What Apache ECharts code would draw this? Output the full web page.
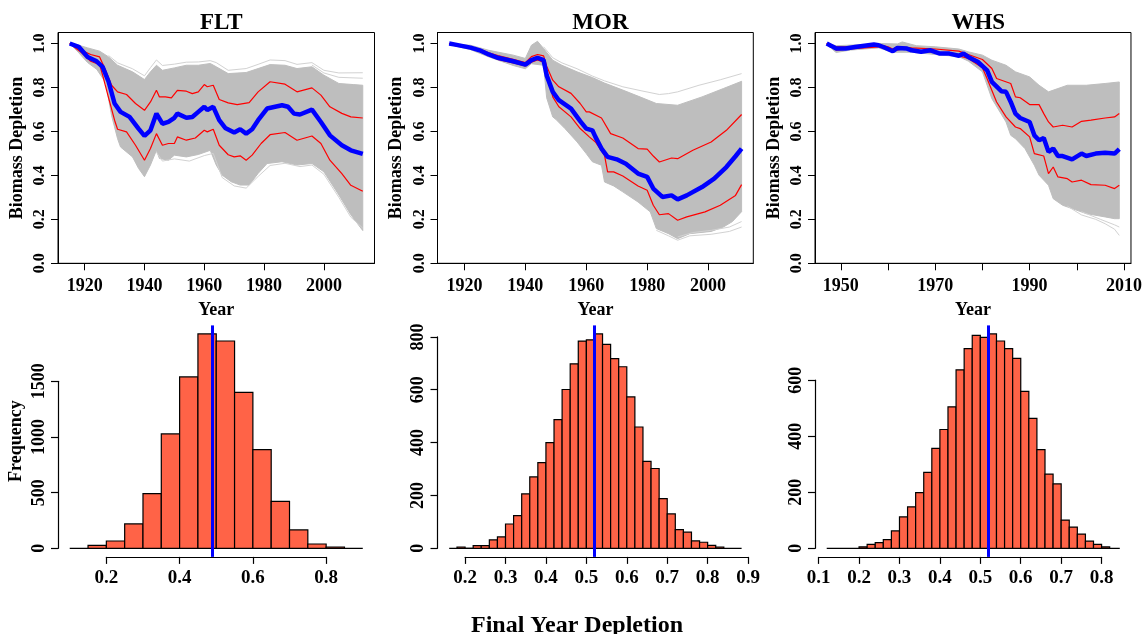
<!DOCTYPE html>
<html>
<head>
<meta charset="utf-8">
<script src="https://cdn.jsdelivr.net/npm/echarts@6/dist/echarts.min.js"></script>
<style>
  html, body { margin: 0; padding: 0; background: #fff; }
  #chart { width: 1145px; height: 634px; }
</style>
</head>
<body>
<div id="chart"></div>
<script>
const SERIF = '"Liberation Serif", "Times New Roman", serif';

// Shared depletion axis
const depletionTicks = [0, 0.2, 0.4, 0.6, 0.8, 1.0];
const depletionMax = 1.05;

// ---------- FLT ----------
const fltYearTicks = [1920, 1940, 1960, 1980, 2000];
const fltYearLabels = [1920, 1940, 1960, 1980, 2000];
const fltMedian = [[1915,1.0],[1918,0.985],[1921,0.939],[1924,0.919],[1926,0.894],[1928,0.826],[1930,0.727],[1932,0.689],[1935,0.666],[1938,0.613],[1940,0.580],[1942,0.605],[1944,0.681],[1946,0.635],[1948,0.643],[1950,0.662],[1951,0.681],[1954,0.662],[1956,0.666],[1958,0.689],[1960,0.712],[1961,0.697],[1963,0.712],[1965,0.651],[1967,0.616],[1970,0.595],[1972,0.610],[1974,0.590],[1976,0.610],[1978,0.651],[1981,0.704],[1986,0.719],[1988,0.712],[1990,0.681],[1992,0.677],[1996,0.699],[1999,0.643],[2002,0.582],[2006,0.537],[2009,0.514],[2013,0.498]];
const fltUpper = [[1915,1.0],[1919,0.969],[1922,0.950],[1925,0.939],[1927,0.878],[1929,0.810],[1931,0.780],[1934,0.768],[1937,0.727],[1940,0.696],[1942,0.734],[1944,0.787],[1945,0.757],[1947,0.757],[1949,0.753],[1951,0.787],[1954,0.783],[1956,0.772],[1958,0.780],[1960,0.813],[1961,0.803],[1963,0.810],[1965,0.745],[1968,0.730],[1971,0.722],[1975,0.731],[1978,0.780],[1982,0.826],[1987,0.815],[1991,0.780],[1996,0.798],[1999,0.765],[2002,0.712],[2006,0.682],[2009,0.666],[2013,0.661]];
const fltLower = [[1915,1.0],[1919,0.958],[1922,0.919],[1925,0.904],[1926,0.856],[1928,0.753],[1930,0.651],[1931,0.610],[1934,0.598],[1937,0.537],[1940,0.469],[1942,0.522],[1944,0.590],[1946,0.537],[1948,0.545],[1950,0.545],[1951,0.575],[1954,0.560],[1957,0.570],[1960,0.605],[1961,0.598],[1963,0.610],[1965,0.537],[1968,0.494],[1970,0.484],[1972,0.489],[1974,0.469],[1976,0.492],[1979,0.545],[1982,0.585],[1987,0.595],[1991,0.560],[1996,0.579],[1999,0.545],[2002,0.469],[2006,0.408],[2009,0.355],[2013,0.328]];
const fltEnvHigh = [[1915,1.0],[1918,0.992],[1921,0.980],[1925,0.965],[1928,0.939],[1931,0.901],[1936,0.871],[1940,0.836],[1942,0.871],[1944,0.901],[1946,0.878],[1950,0.889],[1954,0.901],[1958,0.901],[1962,0.909],[1964,0.894],[1968,0.863],[1974,0.868],[1978,0.886],[1982,0.904],[1987,0.901],[1991,0.886],[1996,0.894],[2000,0.856],[2005,0.818],[2010,0.813],[2013,0.810]];
const fltEnvLow = [[1915,1.0],[1918,0.958],[1921,0.913],[1924,0.883],[1927,0.823],[1929,0.672],[1931,0.567],[1932,0.529],[1936,0.484],[1938,0.432],[1940,0.394],[1942,0.447],[1944,0.514],[1945,0.477],[1948,0.469],[1950,0.492],[1954,0.484],[1958,0.495],[1962,0.514],[1964,0.447],[1966,0.401],[1969,0.371],[1972,0.356],[1975,0.356],[1978,0.409],[1981,0.454],[1986,0.462],[1991,0.447],[1996,0.454],[2000,0.416],[2005,0.311],[2009,0.221],[2013,0.149]];
const fltStrayHigh = [[1928,0.945],[1931,0.912],[1936,0.885],[1940,0.853],[1942,0.890],[1944,0.925],[1946,0.900],[1950,0.906],[1954,0.915],[1958,0.916],[1962,0.922],[1964,0.913],[1968,0.878],[1974,0.886],[1978,0.905],[1982,0.925],[1987,0.922],[1991,0.905],[1996,0.913],[2000,0.878],[2005,0.866],[2013,0.867]];
const fltStrayHigh2 = [[1996,0.902],[2000,0.866],[2005,0.846],[2013,0.842]];
const fltStrayLow = [[1944,0.505],[1946,0.465],[1950,0.475],[1955,0.465],[1960,0.490],[1963,0.500],[1966,0.390],[1970,0.352],[1974,0.342],[1978,0.395],[1982,0.445],[1987,0.455],[1992,0.440],[1996,0.447],[2000,0.405],[2005,0.300],[2009,0.210],[2013,0.160]];
const fltHistStart = 0.15;
const fltHistWidth = 0.05;
const fltHistCounts = [27, 66, 219, 491, 1027, 1539, 1925, 1862, 1401, 886, 422, 165, 39, 12];
const fltHistRange = [0.1, 0.9];
const fltHistXTicks = [0.2, 0.4, 0.6, 0.8];
const fltHistYTicks = [0, 500, 1000, 1500];
const fltFinalMedian = 0.492;

// ---------- MOR ----------
const morYearTicks = [1920, 1940, 1960, 1980, 2000];
const morYearLabels = [1920, 1940, 1960, 1980, 2000];
const morMedian = [[1915,1.0],[1917,0.995],[1922,0.981],[1925,0.969],[1928,0.950],[1931,0.935],[1936,0.919],[1940,0.904],[1942,0.924],[1944,0.935],[1946,0.924],[1947,0.855],[1949,0.780],[1951,0.742],[1955,0.704],[1958,0.647],[1960,0.613],[1962,0.605],[1963,0.575],[1965,0.522],[1967,0.484],[1970,0.473],[1973,0.453],[1977,0.408],[1980,0.393],[1982,0.340],[1985,0.302],[1988,0.309],[1990,0.291],[1993,0.309],[1998,0.347],[2002,0.385],[2006,0.438],[2009,0.487],[2011,0.522]];
const morUpper = [[1915,1.0],[1917,0.998],[1922,0.985],[1925,0.975],[1928,0.958],[1931,0.945],[1936,0.928],[1940,0.913],[1942,0.940],[1944,0.950],[1946,0.944],[1947,0.897],[1949,0.833],[1951,0.803],[1955,0.773],[1958,0.727],[1960,0.689],[1961,0.689],[1965,0.661],[1968,0.590],[1972,0.570],[1977,0.522],[1980,0.519],[1982,0.488],[1984,0.461],[1988,0.479],[1990,0.476],[1995,0.514],[2001,0.552],[2006,0.605],[2011,0.677]];
const morLower = [[1915,1.0],[1917,0.990],[1922,0.978],[1925,0.965],[1928,0.945],[1931,0.928],[1936,0.912],[1940,0.898],[1942,0.915],[1944,0.925],[1946,0.915],[1947,0.879],[1949,0.757],[1951,0.712],[1955,0.666],[1958,0.613],[1961,0.575],[1963,0.552],[1966,0.491],[1967,0.416],[1969,0.416],[1972,0.397],[1977,0.352],[1980,0.332],[1982,0.264],[1984,0.221],[1987,0.226],[1990,0.196],[1993,0.211],[1999,0.234],[2004,0.264],[2009,0.309],[2011,0.358]];
const morEnvHigh = [[1915,1.0],[1922,0.992],[1928,0.969],[1936,0.947],[1940,0.932],[1942,0.992],[1944,1.010],[1946,0.977],[1949,0.924],[1952,0.901],[1957,0.871],[1962,0.845],[1966,0.820],[1972,0.788],[1978,0.755],[1983,0.727],[1990,0.719],[1998,0.757],[2005,0.795],[2011,0.828]];
const morEnvLow = [[1915,0.995],[1922,0.972],[1928,0.939],[1936,0.900],[1940,0.885],[1942,0.908],[1946,0.901],[1947,0.753],[1949,0.666],[1950,0.655],[1953,0.613],[1957,0.552],[1960,0.499],[1962,0.462],[1965,0.446],[1966,0.370],[1969,0.352],[1972,0.325],[1977,0.279],[1981,0.234],[1983,0.158],[1987,0.135],[1990,0.112],[1994,0.135],[2001,0.145],[2005,0.165],[2008,0.190],[2011,0.235]];
const morStrayHigh = [[1946,0.985],[1949,0.935],[1952,0.912],[1957,0.885],[1962,0.852],[1966,0.830],[1972,0.803],[1978,0.785],[1984,0.768],[1987,0.772],[1990,0.780],[1997,0.810],[2004,0.835],[2011,0.863]];
const morStrayLow = [[1983,0.150],[1987,0.125],[1990,0.105],[1994,0.125],[2001,0.132],[2007,0.145],[2011,0.165]];
const morStrayLow2 = [[1990,0.120],[1995,0.140],[2001,0.150],[2007,0.165],[2011,0.190]];
const morHistStart = 0.18;
const morHistWidth = 0.02;
const morHistCounts = [5, 0, 10, 10, 32, 43, 92, 124, 206, 270, 324, 400, 487, 601, 698, 784, 789, 811, 772, 718, 687, 573, 459, 329, 302, 188, 130, 71, 61, 28, 23, 11, 5];
const morHistRange = [0.1607, 0.884];
const morHistXTicks = [0.2, 0.3, 0.4, 0.5, 0.6, 0.7, 0.8, 0.9];
const morHistYTicks = [0, 200, 400, 600, 800];
const morFinalMedian = 0.5235;

// ---------- WHS ----------
const whsYearTicks = [1950, 1960, 1970, 1980, 1990, 2000, 2010];
const whsYearLabels = [1950, 1970, 1990, 2010];
const whsMedian = [[1947,1.0],[1948,0.989],[1949,0.977],[1951,0.977],[1953,0.984],[1957,0.995],[1958,0.992],[1959,0.984],[1961,0.965],[1962,0.980],[1964,0.977],[1965,0.969],[1967,0.962],[1969,0.969],[1971,0.954],[1973,0.954],[1975,0.944],[1976,0.954],[1977,0.939],[1979,0.917],[1981,0.878],[1982,0.825],[1984,0.783],[1985,0.780],[1986,0.734],[1987,0.681],[1988,0.661],[1990,0.643],[1991,0.582],[1992,0.560],[1993,0.570],[1994,0.507],[1995,0.522],[1996,0.488],[1997,0.488],[1999,0.473],[2001,0.499],[2002,0.488],[2004,0.499],[2006,0.503],[2008,0.499],[2009,0.519]];
const whsUpper = [[1947,1.0],[1949,0.985],[1952,0.985],[1955,0.990],[1958,0.995],[1960,0.985],[1961,0.975],[1962,0.985],[1965,0.980],[1970,0.975],[1975,0.965],[1977,0.950],[1980,0.927],[1982,0.886],[1983,0.841],[1986,0.818],[1987,0.757],[1988,0.753],[1990,0.722],[1992,0.722],[1993,0.681],[1994,0.643],[1995,0.620],[1997,0.628],[1999,0.620],[2001,0.646],[2003,0.651],[2006,0.661],[2008,0.666],[2009,0.681]];
const whsLower = [[1947,1.0],[1948,0.985],[1949,0.970],[1952,0.975],[1955,0.980],[1958,0.985],[1961,0.965],[1963,0.975],[1967,0.965],[1970,0.960],[1973,0.955],[1977,0.932],[1980,0.890],[1981,0.840],[1983,0.734],[1985,0.666],[1987,0.620],[1988,0.613],[1990,0.575],[1991,0.499],[1993,0.488],[1994,0.408],[1995,0.438],[1996,0.393],[1998,0.385],[1999,0.370],[2001,0.378],[2003,0.358],[2006,0.355],[2008,0.340],[2009,0.355]];
const whsEnvHigh = [[1947,1.0],[1949,0.990],[1955,0.995],[1958,1.0],[1962,0.998],[1963,1.007],[1966,0.990],[1970,0.985],[1975,0.975],[1977,0.962],[1980,0.947],[1982,0.924],[1985,0.901],[1987,0.871],[1990,0.848],[1992,0.810],[1994,0.780],[1996,0.795],[1998,0.810],[2002,0.810],[2006,0.818],[2009,0.825]];
const whsEnvLow = [[1947,0.995],[1949,0.959],[1952,0.970],[1958,0.980],[1961,0.960],[1965,0.960],[1970,0.950],[1975,0.940],[1977,0.920],[1980,0.871],[1982,0.749],[1985,0.643],[1986,0.582],[1987,0.567],[1989,0.522],[1991,0.446],[1992,0.401],[1994,0.355],[1995,0.294],[1997,0.264],[1999,0.249],[2002,0.226],[2006,0.211],[2008,0.203],[2009,0.203]];
const whsStrayLow = [[1998,0.260],[2001,0.220],[2004,0.200],[2006,0.180],[2008,0.155],[2009,0.127]];
const whsStrayLow2 = [[2001,0.235],[2005,0.200],[2008,0.175],[2009,0.165]];
const whsHistStart = 0.20;
const whsHistWidth = 0.02;
const whsHistCounts = [5, 14, 20, 31, 62, 112, 148, 199, 271, 357, 424, 505, 637, 713, 760, 753, 765, 740, 713, 678, 560, 464, 352, 265, 230, 101, 76, 51, 26, 14, 5];
const whsHistRange = [0.12, 0.845];
const whsHistXTicks = [0.1, 0.2, 0.3, 0.4, 0.5, 0.6, 0.7, 0.8];
const whsHistYTicks = [0, 200, 400, 600];
const whsFinalMedian = 0.5195;

const stocks = [
  { name: 'FLT', yearTicks: fltYearTicks, yearLabels: fltYearLabels, median: fltMedian, upper: fltUpper, lower: fltLower,
    envHigh: fltEnvHigh, envLow: fltEnvLow, strays: [fltStrayHigh, fltStrayHigh2, fltStrayLow],
    hist: { start: fltHistStart, width: fltHistWidth, counts: fltHistCounts, range: fltHistRange,
            xTicks: fltHistXTicks, yTicks: fltHistYTicks, median: fltFinalMedian } },
  { name: 'MOR', yearTicks: morYearTicks, yearLabels: morYearLabels, median: morMedian, upper: morUpper, lower: morLower,
    envHigh: morEnvHigh, envLow: morEnvLow, strays: [morStrayHigh, morStrayLow, morStrayLow2],
    hist: { start: morHistStart, width: morHistWidth, counts: morHistCounts, range: morHistRange,
            xTicks: morHistXTicks, yTicks: morHistYTicks, median: morFinalMedian } },
  { name: 'WHS', yearTicks: whsYearTicks, yearLabels: whsYearLabels, median: whsMedian, upper: whsUpper, lower: whsLower,
    envHigh: whsEnvHigh, envLow: whsEnvLow, strays: [whsStrayLow, whsStrayLow2],
    hist: { start: whsHistStart, width: whsHistWidth, counts: whsHistCounts, range: whsHistRange,
            xTicks: whsHistXTicks, yTicks: whsHistYTicks, median: whsFinalMedian } }
];

// Panel placement (pixels)
const columns = [[58, 374.5], [437.5, 753.3], [815, 1131.5]];
const topRow = { top: 32.5, bottom: 263.3 };
const histRow = { top: 325.4, bottom: 556.9 };

const BLACK = '#000';
const tickText = (size) => ({ fontFamily: SERIF, fontWeight: 'bold', fontSize: size, color: BLACK });
const nameText = { fontFamily: SERIF, fontWeight: 'bold', fontSize: 18, color: BLACK };

// Axis range padded by 4% on each side
function padRange(a, b) { const d = (b - a) * 0.04; return [a - d, b + d]; }

const grid = [], xAxis = [], yAxis = [], series = [], title = [];

stocks.forEach((s, i) => {
  const [L, R] = columns[i];

  // ----- trajectory panel -----
  const g = grid.length;
  grid.push({ left: L, top: topRow.top, width: R - L, height: topRow.bottom - topRow.top,
              show: true, borderColor: BLACK, borderWidth: 1, backgroundColor: 'transparent' });
  const years = s.median.map(p => p[0]);
  const [x0, x1] = padRange(Math.min(...years), Math.max(...years));
  xAxis.push({
    type: 'value', gridIndex: g, min: x0, max: x1,
    name: 'Year', nameLocation: 'middle', nameGap: 38, nameTextStyle: nameText,
    axisLine: { show: true, lineStyle: { color: BLACK, width: 1 } },
    splitLine: { show: false },
    axisTick: { show: true, inside: false, length: 7, customValues: s.yearTicks, lineStyle: { color: BLACK, width: 1 } },
    axisLabel: { customValues: s.yearLabels, margin: 14, formatter: v => String(v), ...tickText(18) }
  });
  yAxis.push({
    type: 'value', gridIndex: g, min: 0, max: depletionMax,
    name: 'Biomass Depletion', nameLocation: 'middle', nameGap: 32, nameRotate: 90, nameTextStyle: nameText,
    axisLine: { show: true, lineStyle: { color: BLACK, width: 1 } },
    splitLine: { show: false },
    axisTick: { show: true, inside: false, length: 7, customValues: depletionTicks, lineStyle: { color: BLACK, width: 1 } },
    axisLabel: { customValues: depletionTicks, rotate: 90, margin: 10, formatter: v => v.toFixed(1), ...tickText(16) }
  });
  title.push({ text: s.name, left: (L + R) / 2, top: 7, textAlign: 'center',
               textStyle: { fontFamily: SERIF, fontWeight: 'bold', fontSize: 23, color: BLACK } });

  // envelope of all simulated trajectories
  const envelope = s.envHigh.concat(s.envLow.slice().reverse());
  series.push({
    type: 'custom', xAxisIndex: g, yAxisIndex: g, z: 1, silent: true,
    data: [s.median[0]],
    renderItem: (params, api) => ({
      type: 'polygon',
      shape: { points: envelope.map(p => api.coord(p)) },
      style: { fill: '#bebebe', stroke: '#bebebe', lineWidth: 1 }
    })
  });
  s.strays.forEach(line => series.push({
    type: 'line', xAxisIndex: g, yAxisIndex: g, z: 2, data: line, symbol: 'none', silent: true,
    lineStyle: { color: '#d2d2d2', width: 1 }
  }));
  [s.lower, s.upper].forEach(line => series.push({
    type: 'line', xAxisIndex: g, yAxisIndex: g, z: 3, data: line, symbol: 'none', silent: true,
    lineStyle: { color: '#ff0000', width: 1.2 }
  }));
  series.push({
    type: 'line', xAxisIndex: g, yAxisIndex: g, z: 4, data: s.median, symbol: 'none', silent: true,
    lineStyle: { color: '#0000ff', width: 4.5 }
  });

  // ----- final-year histogram -----
  const h = s.hist;
  const gh = grid.length;
  const plotH = histRow.bottom - histRow.top;
  grid.push({ left: L, top: histRow.top, width: R - L, height: plotH });
  const [hx0, hx1] = padRange(h.range[0], h.range[1]);
  const maxCount = Math.max(...h.counts);
  const hy0 = -0.04 * maxCount, hy1 = 1.04 * maxCount;
  xAxis.push({ type: 'value', gridIndex: gh, min: hx0, max: hx1, show: false });
  yAxis.push({
    type: 'value', gridIndex: gh, min: hy0, max: hy1,
    name: i === 0 ? 'Frequency' : '', nameLocation: 'middle', nameGap: 33, nameRotate: 90, nameTextStyle: nameText,
    axisLine: { show: false }, axisTick: { show: false }, axisLabel: { show: false }, splitLine: { show: false }
  });
  const bins = h.counts.map((c, k) => [h.start + k * h.width, h.start + (k + 1) * h.width, c]);
  series.push({
    type: 'custom', xAxisIndex: gh, yAxisIndex: gh, z: 2, silent: true,
    data: bins,
    renderItem: (params, api) => {
      const a = api.coord([api.value(0), api.value(2)]);
      const b = api.coord([api.value(1), 0]);
      return { type: 'rect', shape: { x: a[0], y: a[1], width: b[0] - a[0], height: b[1] - a[1] },
               style: { fill: '#ff6347', stroke: BLACK, lineWidth: 1.2 } };
    }
  });
  series.push({
    type: 'line', xAxisIndex: gh, yAxisIndex: gh, z: 1, symbol: 'none', silent: true,
    data: [[h.range[0], 0], [h.range[1], 0]],
    lineStyle: { color: BLACK, width: 1.3 },
    markLine: {
      silent: true, symbol: ['none', 'none'], label: { show: false }, z: 5,
      lineStyle: { color: '#0000ff', width: 3, type: 'solid' },
      data: [{ xAxis: h.median }]
    }
  });

  // x axis drawn only across its tick span, just below the plotting region
  const pxX = (R - L) / (hx1 - hx0);
  const t0 = h.xTicks[0], t1 = h.xTicks[h.xTicks.length - 1];
  const gx = grid.length;
  grid.push({ left: L + (t0 - hx0) * pxX, width: (t1 - t0) * pxX, top: histRow.top, height: plotH });
  xAxis.push({
    type: 'value', gridIndex: gx, min: t0, max: t1,
    axisLine: { show: true, lineStyle: { color: BLACK, width: 1.2 } },
    splitLine: { show: false },
    axisTick: { show: true, inside: false, length: 7, customValues: h.xTicks, lineStyle: { color: BLACK, width: 1.2 } },
    axisLabel: { customValues: h.xTicks, margin: 12, formatter: v => v.toFixed(1), ...tickText(19) }
  });
  yAxis.push({ type: 'value', gridIndex: gx, show: false });

  // y axis drawn only from zero to its top tick, at the left of the plotting region
  const pxY = plotH / (hy1 - hy0);
  const top1 = h.yTicks[h.yTicks.length - 1];
  const gy = grid.length;
  grid.push({ left: L, width: R - L, top: histRow.top + (hy1 - top1) * pxY, height: top1 * pxY });
  xAxis.push({ type: 'value', gridIndex: gy, show: false });
  yAxis.push({
    type: 'value', gridIndex: gy, min: 0, max: top1,
    axisLine: { show: true, lineStyle: { color: BLACK, width: 1.2 } },
    splitLine: { show: false },
    axisTick: { show: true, inside: false, length: 7, customValues: h.yTicks, lineStyle: { color: BLACK, width: 1.2 } },
    axisLabel: { customValues: h.yTicks, rotate: 90, margin: 10, formatter: v => String(v), ...tickText(18) }
  });
});

title.push({ text: 'Final Year Depletion', left: 572, top: 609, textAlign: 'center',
             textStyle: { fontFamily: SERIF, fontWeight: 'bold', fontSize: 24, color: BLACK } });

const chart = echarts.init(document.getElementById('chart'), null, { renderer: 'canvas' });
chart.setOption({
  backgroundColor: '#fff',
  animation: false,
  title, grid, xAxis, yAxis, series
});
</script>
</body>
</html>
